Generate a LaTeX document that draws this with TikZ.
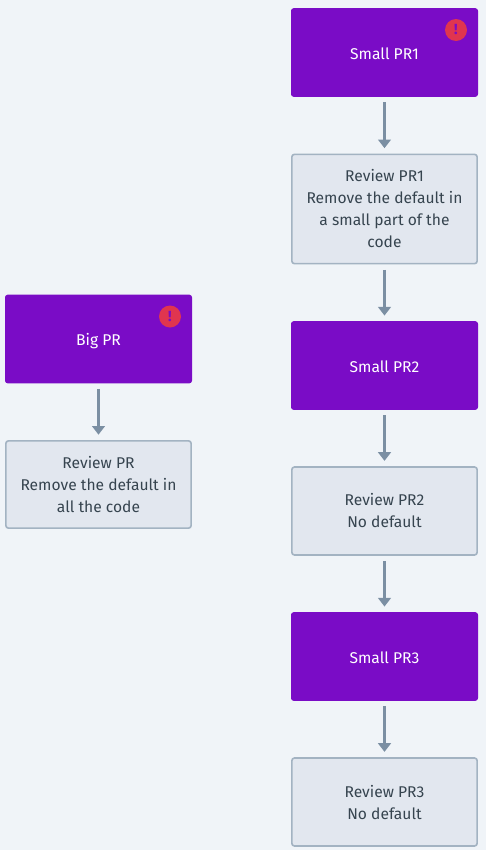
\documentclass[tikz,border=0pt]{standalone}
\usepackage{fontspec}
\setmainfont{Fira Sans}
\usetikzlibrary{arrows.meta}
\definecolor{Page}{HTML}{F0F4F8}
\definecolor{Violet}{HTML}{7A0CC6}
\definecolor{Slate}{HTML}{E2E7EF}
\definecolor{Edge}{HTML}{A3B3C2}
\definecolor{Link}{HTML}{7B8FA3}
\definecolor{Ink}{HTML}{36444F}
\definecolor{Alert}{HTML}{E0354F}
\tikzset{
  prbox/.style={fill=Violet,text=white,rounded corners=2pt,minimum width=140.25pt,minimum height=66.5pt,font=\fontsize{11.7pt}{16.5pt}\selectfont,align=center,inner sep=0pt,text height=10pt,text depth=0pt},
  reviewbox/.style={fill=Slate,draw=Edge,line width=1.2pt,text=Ink,rounded corners=2pt,minimum width=139pt,font=\fontsize{11.7pt}{16.5pt}\selectfont,align=center,inner sep=0pt},
  alertdot/.style={circle,fill=Alert,text=Violet,minimum size=16.5pt,inner sep=0pt,font=\bfseries\fontsize{11pt}{11pt}\selectfont},
  flow/.style={-{Triangle[length=6.5pt,width=9.5pt]},line width=2.7pt,Link,shorten <=4pt,shorten >=4pt}
}
\begin{document}
\begin{tikzpicture}[x=0.75pt,y=-0.75pt]
        \fill[Page] (0,0) rectangle (486,850);
        % left column
        \node[prbox] (big) at (98.5,339) {Big PR};
        \node[reviewbox,minimum height=65.5pt] (bigreview) at (98.5,484.5) {Review PR\\Remove the default in\\all the code};
        % right column
        \node[prbox] (small1) at (384.5,52.5) {Small PR1};
        \node[reviewbox,minimum height=82pt] (review1) at (384.5,209) {Review PR1\\Remove the default in\\a small part of the\\code};
        \node[prbox] (small2) at (384.5,365.5) {Small PR2};
        \node[reviewbox,minimum height=66pt] (review2) at (384.5,511) {Review PR2\\No default};
        \node[prbox] (small3) at (384.5,656.5) {Small PR3};
        \node[reviewbox,minimum height=66pt] (review3) at (384.5,802) {Review PR3\\No default};
        \node[alertdot] (alert1) at (456,30) {!};
        \node[alertdot] (alert2) at (170,316.5) {!};
        \draw[flow] (big) -- (bigreview);
        \draw[flow] (small1) -- (review1);
        \draw[flow] (review1) -- (small2);
        \draw[flow] (small2) -- (review2);
        \draw[flow] (review2) -- (small3);
        \draw[flow] (small3) -- (review3);
        \useasboundingbox (0,0) rectangle (486,850);
      \end{tikzpicture}
\end{document}
